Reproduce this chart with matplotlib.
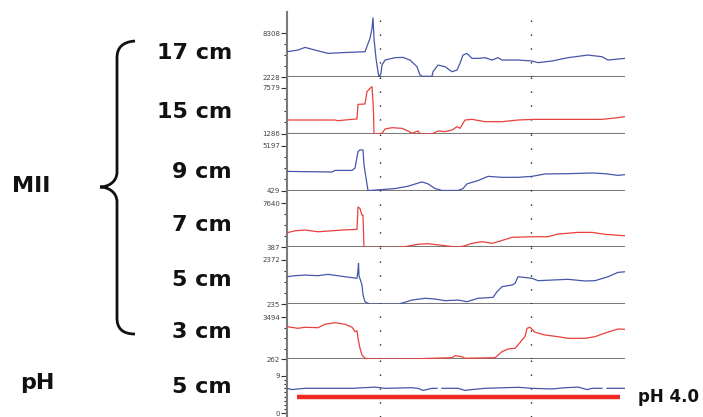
import numpy as np
import matplotlib
matplotlib.use("Agg")
import matplotlib.pyplot as plt
from matplotlib.path import Path
from matplotlib.patches import PathPatch

t1 = [0, 11, 18, 28, 41, 61, 78, 83, 85, 86, 87, 89, 91, 92, 94, 95, 98, 108, 116, 123,
      130, 133, 135, 145, 146, 151, 158, 165, 170, 173, 176, 180, 185, 191, 198, 205, 211, 215,
      231, 245, 251, 265, 281, 301, 315, 321, 331, 338]
v1 = [5720, 5950, 6320, 5950, 5490, 5630, 5720, 7560, 8940, 10400, 7560, 4800, 2960, 2230, 2730,
      3880, 4570, 4900, 4940, 4570, 3650, 2500, 2320, 2320, 2960, 3880, 3650, 2960, 3190, 4110,
      5260, 5490, 4800, 4800, 4900, 4570, 4900, 4570, 4570, 4440, 4210, 4440, 4900, 5260, 5030,
      4570, 4710, 4800]

t2 = [0, 48, 51, 65, 70, 71, 78, 80, 83, 85, 86, 86.5, 87, 90, 95, 98, 105, 115, 121, 125,
      131, 133, 145, 151, 158, 165, 170, 173, 178, 185, 198, 215, 231, 248, 281, 315, 331, 338]
v2 = [3200, 3200, 3110, 3290, 3340, 5340, 5390, 7080, 7530, 7760, 5710, 4340, 1286, 1286, 1380,
      1970, 2150, 2060, 1700, 1380, 1700, 1286, 1286, 1700, 1610, 1830, 2290, 2060, 3200, 3290,
      2970, 2970, 3200, 3290, 3290, 3290, 3520, 3660]

t3 = [0, 45, 48, 65, 68, 71, 73, 76, 77, 79, 81, 83, 108, 121, 135, 141, 148, 155, 171, 176,
      180, 191, 201, 215, 231, 245, 258, 281, 305, 318, 331, 338]
v3 = [2475, 2410, 2580, 2580, 2835, 4595, 4775, 4775, 3185, 1775, 429, 429, 640, 885, 1350, 1140,
      640, 429, 429, 640, 1140, 1490, 1945, 1840, 1840, 1945, 2200, 2230, 2305, 2230, 2050, 2125]

t4 = [0, 8, 18, 31, 45, 55, 70, 71, 73, 75, 76, 77, 91, 111, 118, 131, 141, 158, 171, 178,
      185, 195, 205, 211, 225, 245, 261, 271, 291, 305, 318, 328, 338]
v4 = [2770, 3090, 3210, 2930, 3090, 3210, 3320, 7000, 6740, 5650, 5650, 387, 387, 387, 485, 880,
      975, 650, 387, 650, 1040, 1300, 1040, 1300, 2020, 2115, 2115, 2555, 2830, 2830, 2505, 2390, 2280]

t5 = [0, 8, 18, 31, 41, 58, 70, 71, 71.5, 72, 75, 76, 78, 83, 111, 125, 138, 148, 158, 171,
      180, 191, 206, 210, 215, 225, 228, 231, 245, 251, 265, 281, 298, 308, 321, 331, 338]
v5 = [1565, 1615, 1645, 1615, 1680, 1565, 1490, 1890, 2210, 1615, 1165, 685, 360, 235, 235, 440,
      525, 490, 410, 440, 360, 525, 570, 840, 1085, 1165, 1245, 1565, 1490, 1375, 1405, 1440, 1360,
      1375, 1565, 1775, 1805]

t6 = [0, 11, 18, 31, 38, 48, 58, 65, 68, 70, 71, 73, 75, 78, 85, 121, 165, 168, 175, 178,
      208, 215, 221, 228, 231, 235, 238, 240, 243, 248, 258, 271, 281, 298, 308, 318, 331, 338]
v6 = [2750, 2625, 2705, 2670, 2935, 3055, 2935, 2705, 2365, 2440, 1855, 1085, 570, 315, 262, 262,
      360, 515, 440, 315, 360, 825, 1030, 1085, 1340, 1725, 1980, 2625, 2705, 2320, 2110, 1980,
      1855, 1855, 1980, 2260, 2570, 2550]

t_ph = [0, 5, 11, 18, 65, 88, 98, 125, 131, 136, 145, 150, 152, 155, 171, 178, 185, 198, 231,
        245, 265, 278, 291, 300, 305, 315, 318, 320, 338]
v_ph = [6.0, 5.7, 5.85, 6.0, 6.0, 6.3, 6.0, 6.15, 6.0, 5.5, 6.0, 6.0, np.nan, 6.0, 6.0, 5.5,
        5.7, 6.0, 6.25, 6.0, 5.85, 6.15, 6.3, 5.7, 6.0, 6.0, np.nan, 6.0, 6.0]
ph_ref = 4.0
ph_ref_t = [10, 333]

channels = ["17 cm", "15 cm", "9 cm", "7 cm", "5 cm", "3 cm"]
tick_lo = [2228, 1286, 429, 387, 235, 262]
tick_hi = [8308, 7579, 5197, 7640, 2372, 3494]
event_t = [93, 244]

blue = "#4457a8"
red = "#e8403c"
grey = "#7a7a7a"

W, H = 703, 417
fig = plt.figure(figsize=(W / 100, H / 100), dpi=100)

# overlay in pixel coords for labels and brace
bg = fig.add_axes([0, 0, 1, 1])
bg.set_xlim(0, W)
bg.set_ylim(H, 0)
bg.axis("off")

x0, x1 = 287, 625
# (top, bottom, y of top tick, y of bottom tick) in pixels
rows = [(12, 77, 33, 77), (77, 134, 88, 134), (134, 190.5, 146, 190.5),
        (190.5, 247.3, 203, 247.3), (247.3, 304.3, 260, 304.3), (304.3, 359, 317, 359),
        (359, 417, 376, 413)]

series = [(t1, v1, blue), (t2, v2, red), (t3, v3, blue), (t4, v4, red), (t5, v5, blue), (t6, v6, red)]
los = tick_lo + [0]
his = tick_hi + [9]

for i, (top, bot, yhi, ylo) in enumerate(rows):
    ax = fig.add_axes([x0 / W, 1 - bot / H, (x1 - x0) / W, (bot - top) / H])
    ax.patch.set_alpha(0)
    lo, hi = los[i], his[i]
    sc = (hi - lo) / (ylo - yhi)
    ax.set_ylim(lo - (bot - ylo) * sc, lo + (ylo - top) * sc)
    ax.set_xlim(0, 338)
    for s in ["top", "right", "bottom"]:
        ax.spines[s].set_visible(False)
    ax.spines["left"].set_color(grey)
    ax.spines["left"].set_linewidth(1.5)
    ax.set_xticks([])
    ax.set_yticks([lo, hi])
    ax.set_yticklabels([str(lo), str(hi)])
    if i < 6:
        ax.set_yticks(np.linspace(lo, hi, 5)[1:-1], minor=True)
        ax.axhline(lo, color=grey, lw=1.5, zorder=1)
        t, v, c = series[i]
        ax.plot(t, v, color=c, lw=0.9, zorder=3)
    else:
        ax.set_yticks(np.arange(1, 9), minor=True)
        ax.plot(t_ph, v_ph, color=blue, lw=0.9, zorder=3)
        ax.plot(ph_ref_t, [ph_ref, ph_ref], color="#ee2a22", lw=3.2, zorder=3, solid_capstyle="butt")
    ax.tick_params(axis="y", which="major", length=4, width=0.8, labelsize=5, pad=1,
                   color="#333333", labelcolor="#444444")
    ax.tick_params(axis="y", which="minor", length=2, width=0.8, color="#333333")
    for et in event_t:
        ax.axvline(et, color="#222222", lw=1.0, linestyle=(0, (1, 9)), zorder=2)

# channel labels
label_y = [53, 112, 172, 225, 280, 332]
for name, y in zip(channels, label_y):
    bg.text(232, y, name, ha="right", va="center", fontsize=16, fontweight="bold", color="#111111")
bg.text(232, 387, "5 cm", ha="right", va="center", fontsize=16, fontweight="bold", color="#111111")
bg.text(12, 186, "MII", ha="left", va="center", fontsize=16, fontweight="bold", color="#111111")
bg.text(20, 383, "pH", ha="left", va="center", fontsize=16, fontweight="bold", color="#111111")
bg.text(638, 397, "pH 4.0", ha="left", va="center", fontsize=12, fontweight="bold", color="#111111")

# curly brace
verts = [(135, 41), (122, 42), (117, 48), (117, 58),
         (117, 172),
         (117, 182), (108, 187), (100, 187),
         (108, 187), (117, 192), (117, 202),
         (117, 318),
         (117, 328), (122, 334), (135, 334)]
codes = [Path.MOVETO, Path.CURVE4, Path.CURVE4, Path.CURVE4,
         Path.LINETO,
         Path.CURVE4, Path.CURVE4, Path.CURVE4,
         Path.CURVE4, Path.CURVE4, Path.CURVE4,
         Path.LINETO,
         Path.CURVE4, Path.CURVE4, Path.CURVE4]
bg.add_patch(PathPatch(Path(verts, codes), fill=False, lw=2, color="#111111"))

fig.savefig("out.png", dpi=100)
